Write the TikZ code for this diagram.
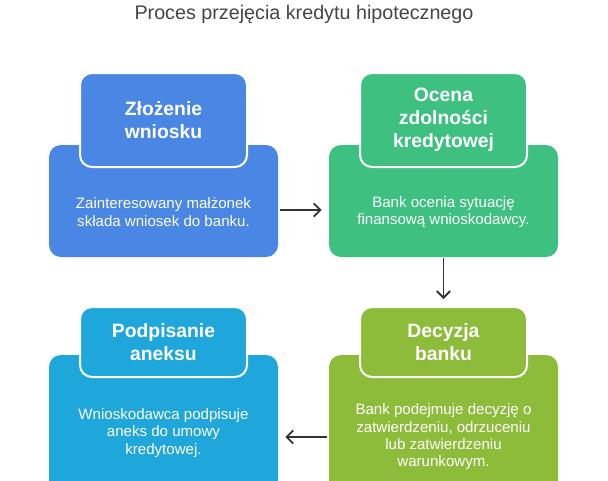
\documentclass[tikz,border=0pt]{standalone}
\usepackage{fontspec}
\setmainfont{Liberation Sans}
\usetikzlibrary{arrows.meta,calc}
\definecolor{cblue}{RGB}{74,134,228}
\definecolor{cgreen}{RGB}{61,192,128}
\definecolor{ccyan}{RGB}{31,166,218}
\definecolor{clime}{RGB}{141,187,58}
\definecolor{ctitle}{RGB}{70,70,70}
\definecolor{carrow}{RGB}{51,51,51}
\tikzset{
  body/.style={rectangle, rounded corners=9pt, draw=none, inner sep=0pt},
  tab/.style={rectangle, rounded corners=9pt, draw=white, line width=1.5pt, inner sep=0pt,
    text=white, font=\fontsize{14.5}{17.2}\selectfont\bfseries, align=center},
  desc/.style={text=white, font=\fontsize{11.3}{13}\selectfont, align=center, inner sep=0pt},
  arr/.style={draw=carrow, line width=1.4pt, -{Straight Barb[length=5pt,width=10pt]}},
  ttl/.style={text=ctitle, font=\fontsize{14.8}{17}\selectfont, inner sep=0pt}
}
\begin{document}
\begin{tikzpicture}[x=0.75pt,y=-0.75pt]
\clip (0,0) rectangle (608,480);
\useasboundingbox (0,0) rectangle (608,480);
\fill[white] (0,0) rectangle (608,480);
\node[ttl] (title) at (304,14) {Proces przejęcia kredytu hipotecznego};
% Box 1
\node[body, fill=cblue, minimum width={229*0.75pt}, minimum height={112*0.75pt}] (r1) at (163.5,201) {};
\node[tab, fill=cblue, minimum width={167*0.75pt}, minimum height={94*0.75pt}] (h1) at (163.5,120) {Złożenie\\wniosku};
\node[desc] (t1) at (163.5,212) {Zainteresowany małżonek\\składa wniosek do banku.};
% Box 2
\node[body, fill=cgreen, minimum width={229*0.75pt}, minimum height={112*0.75pt}] (r2) at (443.5,201) {};
\node[tab, fill=cgreen, minimum width={167*0.75pt}, minimum height={94*0.75pt}] (h2) at (443.5,120) {Ocena\\zdolności\\kredytowej};
\node[desc] (t2) at (443.5,212) {Bank ocenia sytuację\\finansową wnioskodawcy.};
% Box 3
\node[body, fill=ccyan, minimum width={229*0.75pt}, minimum height={140*0.75pt}] (r3) at (163.5,425) {};
\node[tab, fill=ccyan, minimum width={167*0.75pt}, minimum height={70*0.75pt}] (h3) at (163.5,342) {Podpisanie\\aneksu};
\node[desc] (t3) at (163.5,433) {Wnioskodawca podpisuje\\aneks do umowy\\kredytowej.};
% Box 4
\node[body, fill=clime, minimum width={229*0.75pt}, minimum height={140*0.75pt}] (r4) at (443.5,425) {};
\node[tab, fill=clime, minimum width={167*0.75pt}, minimum height={70*0.75pt}] (h4) at (443.5,342) {Decyzja\\banku};
\node[desc] (t4) at (443.5,437) {Bank podejmuje decyzję o\\zatwierdzeniu, odrzuceniu\\lub zatwierdzeniu\\warunkowym.};
% Arrows
\draw[arr] ($(r1.east)+(2,9)$) -- ($(r2.west)+(-7,9)$);
\draw[arr] ($(r2.south)+(0,1)$) -- ($(h4.north)+(0,-7)$);
\draw[arr] ($(r4.west)+(-2,12)$) -- ($(r3.east)+(7,12)$);
\end{tikzpicture}
\end{document}
